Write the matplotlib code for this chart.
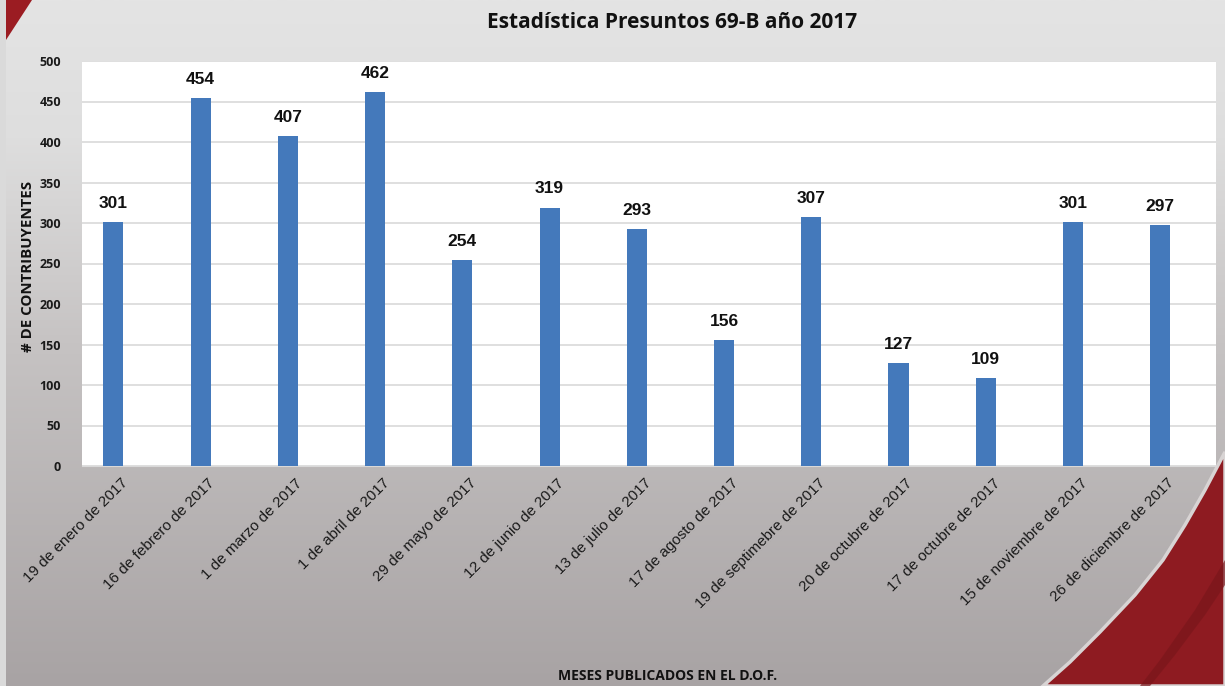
import numpy as np
import matplotlib.pyplot as plt
from matplotlib.patches import Polygon
from matplotlib.colors import LinearSegmentedColormap
import matplotlib.transforms as mtransforms

fechas = [
    "19 de enero de 2017", "16 de febrero de 2017", "1 de marzo de 2017",
    "1 de abril de 2017", "29 de mayo de 2017", "12 de junio de 2017",
    "13 de julio de 2017", "17 de agosto de 2017", "19 de septimebre de 2017",
    "20 de octubre de 2017", "17 de octubre de 2017", "15 de noviembre de 2017",
    "26 de diciembre de 2017",
]
contribuyentes = [301, 454, 407, 462, 254, 319, 293, 156, 307, 127, 109, 301, 297]
y_ticks = [0, 50, 100, 150, 200, 250, 300, 350, 400, 450, 500]

W, H = 1225, 686
fig = plt.figure(figsize=(W / 100, H / 100), dpi=100)

# Slide background: vertical grey gradient with red swooshes
bg = fig.add_axes([0, 0, 1, 1], zorder=-10)
bg.set_xlim(0, W)
bg.set_ylim(H, 0)
bg.axis("off")
grad_cmap = LinearSegmentedColormap.from_list(
    "slide", [(0, "#e4e4e4"), (0.2, "#dedede"), (0.5, "#c6c3c3"), (1, "#a8a3a4")])
grad = np.linspace(0, 1, 256).reshape(-1, 1)
bg.imshow(grad, cmap=grad_cmap, extent=[0, W, H, 0], aspect="auto", zorder=0)
bg.add_patch(Polygon([[0, 0], [6, 0], [6, H], [0, H]], closed=True,
                     facecolor="#dadada", edgecolor="none", zorder=1))
bg.add_patch(Polygon([[6, 0], [32, 0], [6, 40]], closed=True,
                     facecolor="#9b1c22", edgecolor="none", zorder=2))
swoosh = [[1225, 452], [1205, 490], [1185, 525], [1163, 560], [1135, 595],
          [1100, 632], [1070, 662], [1043, 686], [1225, 686]]
bg.add_patch(Polygon(swoosh, closed=True, facecolor="#8e1b21",
                     edgecolor="#d8d4d4", linewidth=2.5, zorder=2))
streak = [[1225, 560], [1195, 610], [1160, 660], [1140, 686], [1150, 686],
          [1175, 655], [1205, 615], [1225, 585]]
bg.add_patch(Polygon(streak, closed=True, facecolor="#7a161b",
                     edgecolor="none", zorder=3, alpha=0.7))

# Chart area
left, right = 82 / W, 1216 / W
bottom, top = (H - 466) / H, (H - 61) / H
ax = fig.add_axes([left, bottom, right - left, top - bottom])
ax.set_facecolor("white")

x = np.arange(len(fechas))
bar_x = x - 0.14  # bar sits left of the category centre (empty second slot)
ax.bar(bar_x, contribuyentes, width=0.23, color="#4479bb", zorder=3)
ax.set_xlim(-0.5, len(fechas) - 0.5)
ax.set_ylim(0, 500)
ax.set_yticks(y_ticks)
ax.yaxis.grid(True, color="#d9d9d9", linewidth=1.2, zorder=0)
ax.set_axisbelow(True)
for s in ["top", "right", "left"]:
    ax.spines[s].set_visible(False)
ax.spines["bottom"].set_color("#d9d9d9")
ax.tick_params(axis="both", length=0)
ax.tick_params(axis="y", pad=15)

for lbl in ax.get_yticklabels():
    lbl.set_fontfamily("Open Sans")
    lbl.set_fontweight("bold")
    lbl.set_fontsize(9)
    lbl.set_color("#1a1a1a")

ax.set_xticks(x)
ax.set_xticklabels(fechas, rotation=45, ha="right", va="top",
                   rotation_mode="anchor", fontsize=11,
                   fontfamily="Liberation Sans", color="#1a1a1a")
offset = mtransforms.ScaledTranslation(-0.05, -0.05, fig.dpi_scale_trans)
for lbl in ax.get_xticklabels():
    lbl.set_transform(lbl.get_transform() + offset)

for xi, v in zip(bar_x, contribuyentes):
    ax.annotate(str(v), (xi, v), xytext=(0, 8), textcoords="offset points",
                ha="center", va="bottom", fontsize=12.5, fontweight="bold",
                fontfamily="Liberation Sans", color="#111111")

fig.text(672 / W, 1 - 22 / H, "Estadística Presuntos 69-B año 2017",
         ha="center", va="center", fontsize=15, fontweight="bold",
         fontfamily="Open Sans", color="#111111")
fig.text(28 / W, 1 - 266 / H, "# DE CONTRIBUYENTES", rotation=90,
         ha="center", va="center", fontsize=10.8, fontweight="bold",
         fontfamily="Open Sans", color="#111111")
fig.text(668 / W, 1 - 676 / H, "MESES PUBLICADOS EN EL D.O.F.",
         ha="center", va="center", fontsize=10, fontweight="bold",
         fontfamily="Open Sans", color="#111111")

fig.savefig("out.png", dpi=100)
